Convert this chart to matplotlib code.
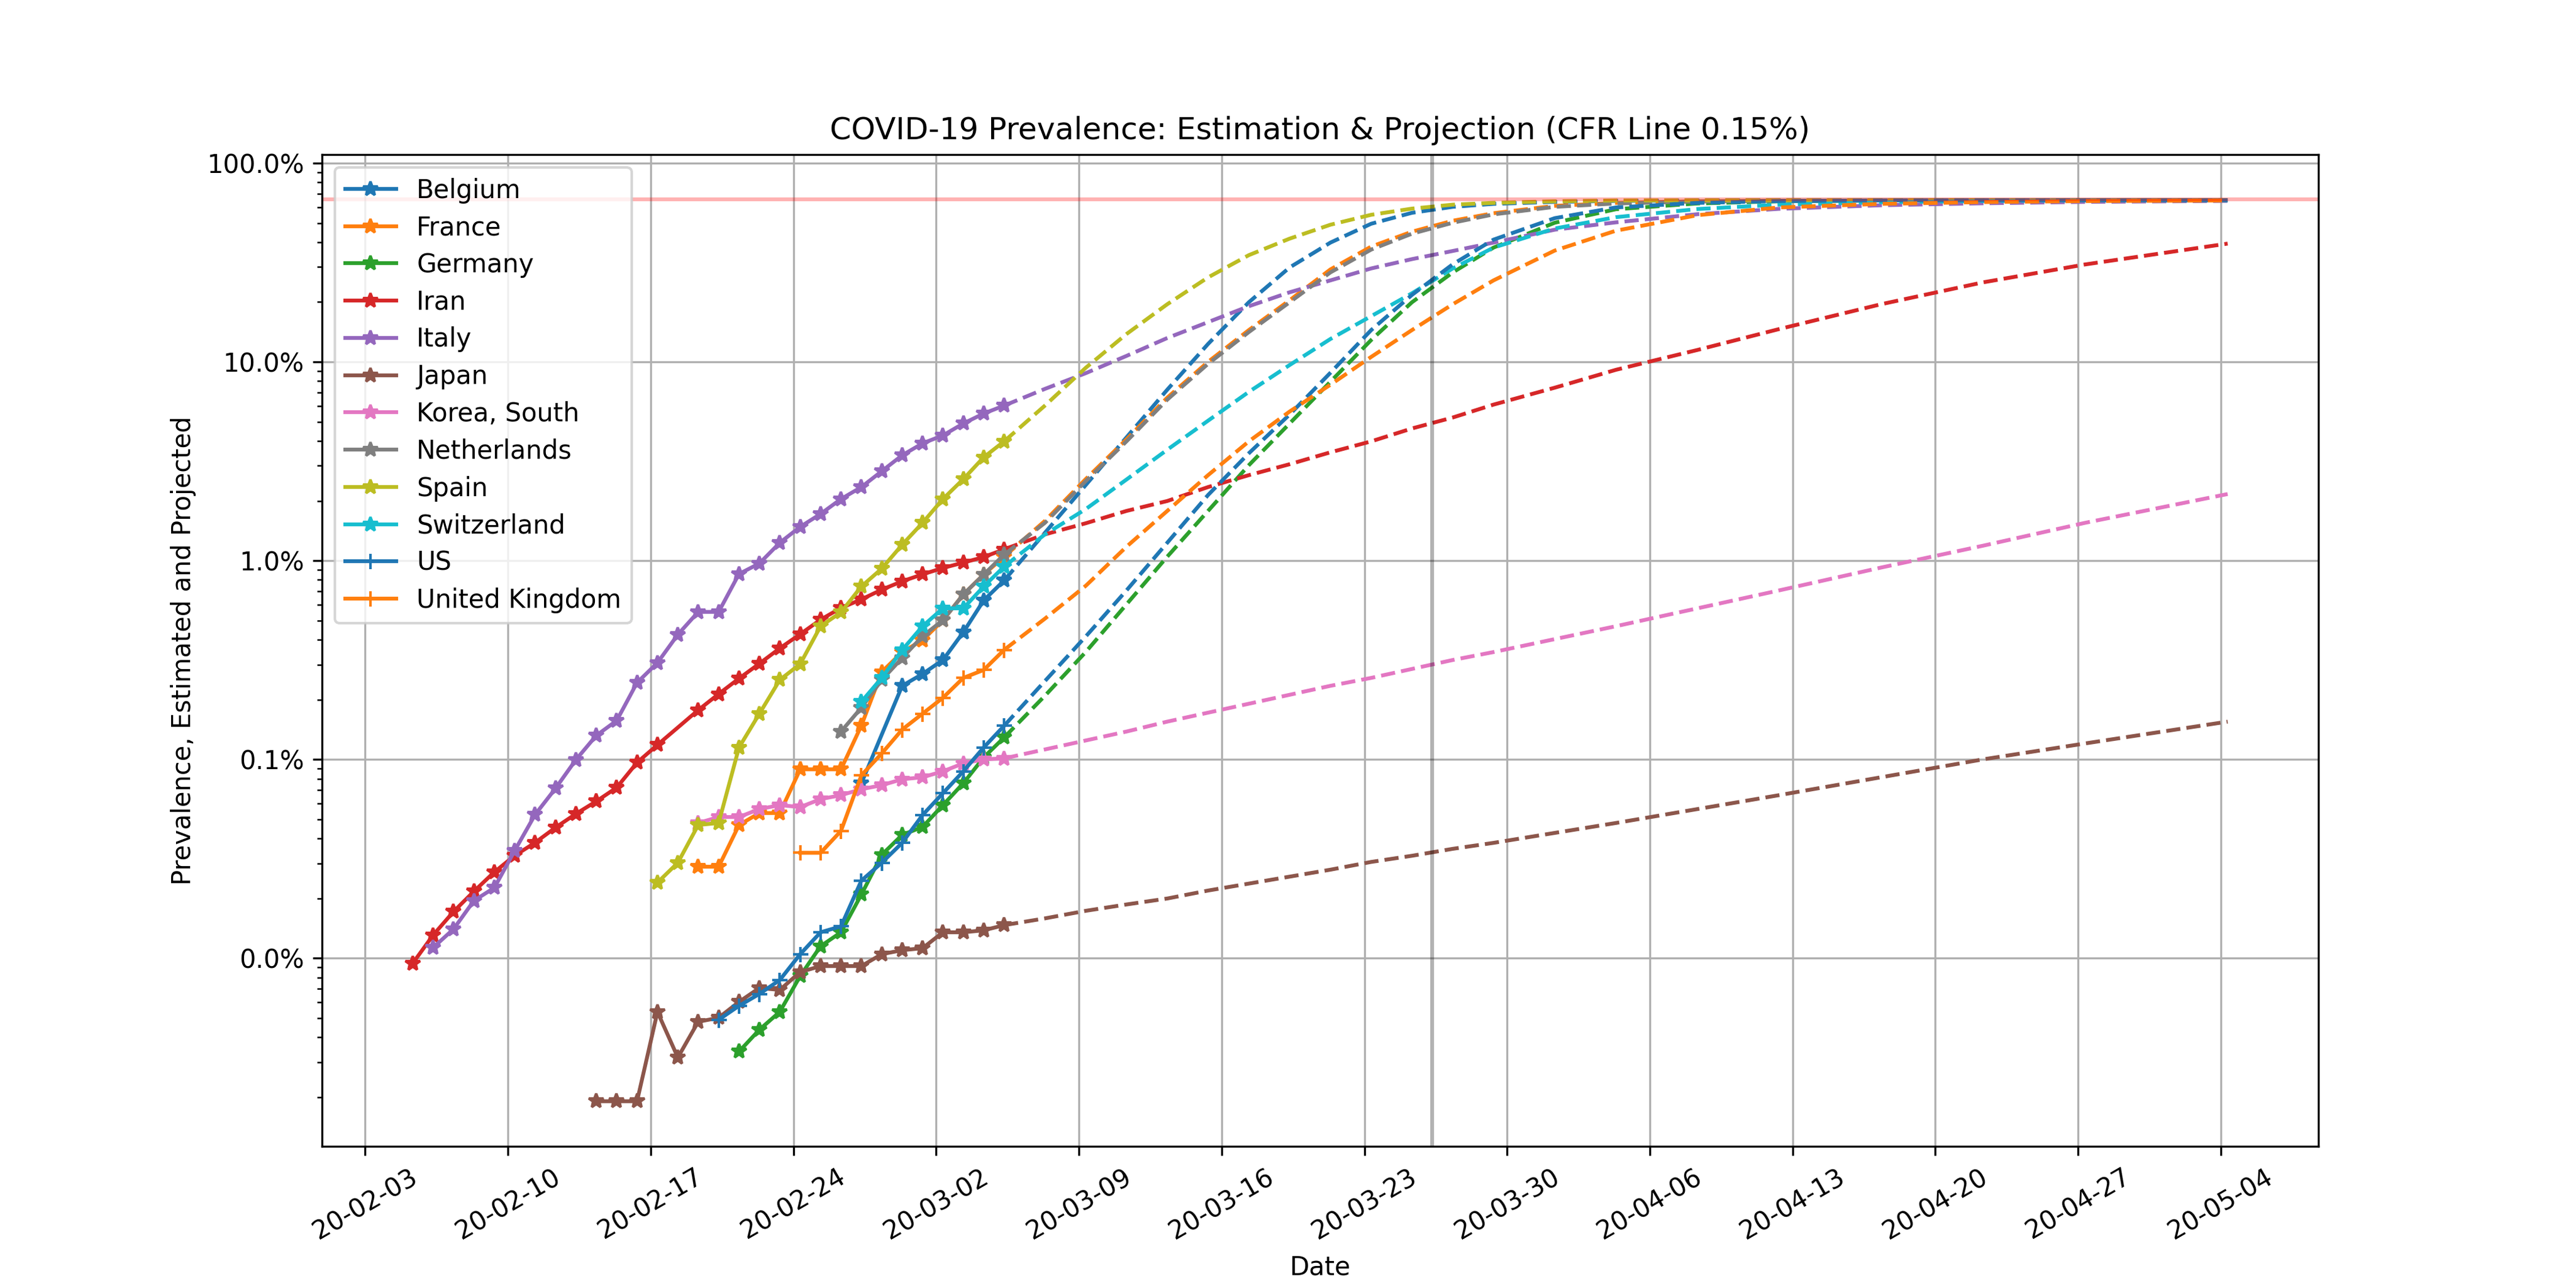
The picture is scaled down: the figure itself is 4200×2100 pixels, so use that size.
import numpy as np
import pandas as pd
import matplotlib
matplotlib.use("Agg")
import matplotlib.pyplot as plt
import matplotlib.dates as mdates
from matplotlib.ticker import PercentFormatter, NullFormatter

# All values are log10 of prevalence (fraction of population).
# Observed series: one value per day from the start date (None = day missing).
obs_hour = "08:00"

belgium_start = "2020-02-27"
belgium_obs = [-3.12, None, -2.63, -2.57, -2.50, -2.36, -2.20, -2.10]
france_start = "2020-02-19"
france_obs = [-3.54, -3.54, -3.33, -3.27, -3.27, -3.05, -3.05, -3.05, -2.83, -2.56,
              -2.46, -2.40, -2.30, -2.17, -2.07, -1.98]
germany_start = "2020-02-21"
germany_obs = [-4.47, -4.36, -4.27, -4.09, -3.94, -3.87, -3.68, -3.48, -3.38, -3.34,
               -3.23, -3.12, -2.99, -2.89]
iran_start = "2020-02-05"
iran_obs = [-4.026, -3.884, -3.766, -3.664, -3.567, -3.484, -3.419, -3.343, -3.274, -3.211,
            -3.142, -3.016, -2.927, None, -2.752, -2.671, -2.593, -2.518, -2.441, -2.370,
            -2.297, -2.238, -2.195, -2.146, -2.104, -2.069, -2.037, -2.010, -1.982, -1.943]
italy_start = "2020-02-06"
italy_obs = [-3.947, -3.854, -3.711, -3.646, -3.459, -3.278, -3.146, -3.002, -2.880, -2.805,
             -2.614, -2.514, -2.372, -2.258, -2.258, -2.067, -2.014, -1.91, -1.83, -1.765,
             -1.69, -1.63, -1.55, -1.47, -1.41, -1.37, -1.31, -1.26, -1.22]
japan_start = "2020-02-14"
japan_obs = [-4.72, -4.72, -4.72, -4.27, -4.50, -4.32, -4.30, -4.22, -4.15, -4.16,
             -4.07, -4.04, -4.04, -4.04, -3.98, -3.96, -3.95, -3.87, -3.87, -3.86, -3.834]
korea_start = "2020-02-19"
korea_obs = [-3.32, -3.29, -3.29, -3.25, -3.23, -3.24, -3.20, -3.18, -3.15, -3.13,
             -3.10, -3.09, -3.06, -3.02, -3.00, -2.995]
netherlands_start = "2020-02-26"
netherlands_obs = [-2.86, -2.74, -2.60, -2.49, -2.38, -2.30, -2.17, -2.07, -1.97]
spain_start = "2020-02-17"
spain_obs = [-3.62, -3.52, -3.33, -3.32, -2.94, -2.77, -2.60, -2.52, -2.33, -2.26,
             -2.13, -2.04, -1.92, -1.81, -1.69, -1.59, -1.48, -1.40]
switzerland_start = "2020-02-27"
switzerland_obs = [-2.71, -2.59, -2.45, -2.33, -2.24, -2.24, -2.13, -2.03]
us_start = "2020-02-20"
us_obs = [-4.31, -4.24, -4.18, -4.11, -3.98, -3.87, -3.84, -3.61, -3.52, -3.42,
          -3.28, -3.17, -3.06, -2.94, -2.831]
uk_start = "2020-02-24"
uk_obs = [-3.47, -3.47, -3.36, -3.08, -2.97, -2.85, -2.77, -2.69, -2.59, -2.55, -2.449]

# Projection (dashed) values at these dates
proj_dates = ["2020-03-05", "2020-03-07", "2020-03-09", "2020-03-11", "2020-03-13",
              "2020-03-15", "2020-03-17", "2020-03-19", "2020-03-21", "2020-03-23",
              "2020-03-25", "2020-03-27", "2020-03-29", "2020-04-01", "2020-04-04",
              "2020-04-08", "2020-04-12", "2020-04-17", "2020-04-22", "2020-04-27",
              "2020-05-04"]
belgium_proj = [-2.10, -1.86, -1.62, -1.38, -1.14, -0.91, -0.70, -0.525, -0.40, -0.305, -0.25,
                -0.22, -0.205, -0.195, -0.19, -0.188, -0.187, -0.187, -0.187, -0.187, -0.187]
france_proj = [-1.98, -1.80, -1.59, -1.39, -1.18, -1.00, -0.84, -0.69, -0.535, -0.42, -0.345,
               -0.29, -0.252, -0.215, -0.200, -0.192, -0.189, -0.188, -0.187, -0.187, -0.187]
germany_proj = [-2.89, -2.68, -2.46, -2.22, -1.98, -1.75, -1.52, -1.31, -1.10, -0.89, -0.70,
                -0.55, -0.425, -0.30, -0.232, -0.203, -0.192, -0.188, -0.187, -0.187, -0.187]
iran_proj = [-1.943, -1.868, -1.812, -1.75, -1.70, -1.63, -1.57, -1.515, -1.455, -1.40, -1.335,
             -1.28, -1.215, -1.13, -1.04, -0.94, -0.835, -0.71, -0.60, -0.51, -0.405]
italy_proj = [-1.22, -1.136, -1.057, -0.97, -0.88, -0.80, -0.72, -0.65, -0.59, -0.53, -0.483,
              -0.442, -0.40, -0.335, -0.298, -0.257, -0.23, -0.212, -0.202, -0.195, -0.19]
japan_proj = [-3.834, -3.80, -3.762, -3.73, -3.70, -3.66, -3.625, -3.59, -3.555, -3.516, -3.485,
              -3.45, -3.42, -3.37, -3.32, -3.25, -3.18, -3.09, -3.00, -2.92, -2.81]
korea_proj = [-2.995, -2.95, -2.905, -2.86, -2.81, -2.765, -2.72, -2.675, -2.63, -2.59, -2.545,
              -2.50, -2.46, -2.395, -2.33, -2.24, -2.15, -2.035, -1.925, -1.81, -1.665]
netherlands_proj = [-1.97, -1.81, -1.60, -1.40, -1.19, -1.01, -0.85, -0.70, -0.55, -0.435, -0.355,
                    -0.30, -0.258, -0.22, -0.203, -0.193, -0.19, -0.188, -0.187, -0.187, -0.187]
spain_proj = [-1.40, -1.22, -1.03, -0.86, -0.71, -0.575, -0.463, -0.38, -0.31, -0.26, -0.229,
              -0.209, -0.20, -0.192, -0.188, -0.187, -0.187, -0.187, -0.187, -0.187, -0.187]
switzerland_proj = [-2.03, -1.868, -1.741, -1.592, -1.442, -1.296, -1.151, -1.016, -0.885, -0.77,
                     -0.655, -0.53, -0.425, -0.329, -0.272, -0.231, -0.209, -0.197, -0.191,
                     -0.188, -0.187]
us_proj = [-2.831, -2.606, -2.382, -2.15, -1.91, -1.67, -1.46, -1.265, -1.055, -0.84, -0.663,
           -0.509, -0.385, -0.277, -0.223, -0.200, -0.191, -0.188, -0.187, -0.187, -0.187]
uk_proj = [-2.449, -2.292, -2.127, -1.93, -1.75, -1.57, -1.40, -1.25, -1.115, -0.975, -0.84,
           -0.71, -0.59, -0.44, -0.34, -0.262, -0.223, -0.205, -0.196, -0.191, -0.188]

countries = ["Belgium", "France", "Germany", "Iran", "Italy", "Japan", "Korea, South",
             "Netherlands", "Spain", "Switzerland", "US", "United Kingdom"]
markers = ["*", "*", "*", "*", "*", "*", "*", "*", "*", "*", "+", "+"]
colors = ["tab:blue", "tab:orange", "tab:green", "tab:red", "tab:purple", "tab:brown",
          "tab:pink", "tab:gray", "tab:olive", "tab:cyan", "tab:blue", "tab:orange"]

cfr_line = 0.655
today = "2020-03-26"

starts = [belgium_start, france_start, germany_start, iran_start, italy_start, japan_start,
          korea_start, netherlands_start, spain_start, switzerland_start, us_start, uk_start]
obs = [belgium_obs, france_obs, germany_obs, iran_obs, italy_obs, japan_obs, korea_obs,
       netherlands_obs, spain_obs, switzerland_obs, us_obs, uk_obs]
projs = [belgium_proj, france_proj, germany_proj, iran_proj, italy_proj, japan_proj, korea_proj,
         netherlands_proj, spain_proj, switzerland_proj, us_proj, uk_proj]

fig, ax = plt.subplots(figsize=(14, 7), dpi=300)

pdates = pd.to_datetime([d + " " + obs_hour for d in proj_dates])
for name, mk, col, st, ob, pr in zip(countries, markers, colors, starts, obs, projs):
    dates = pd.date_range(st + " " + obs_hour, periods=len(ob), freq="D")
    keep = [i for i, v in enumerate(ob) if v is not None]
    x = dates[keep]
    y = np.power(10.0, np.array([ob[i] for i in keep]))
    ax.plot(x, y, marker=mk, color=col, label=name, linewidth=1.5, markersize=6)
    ax.plot(pdates, np.power(10.0, np.array(pr)), "--", color=col, linewidth=1.5)

ax.axhline(cfr_line, color="r", alpha=0.3, linewidth=1.5)
ax.axvline(pd.Timestamp(today + " " + obs_hour), color="k", alpha=0.3, linewidth=1.5)

ax.set_yscale("log")
ax.yaxis.set_major_formatter(PercentFormatter(xmax=1.0, decimals=1))
ax.yaxis.set_minor_formatter(NullFormatter())
ax.xaxis.set_major_locator(mdates.WeekdayLocator(byweekday=mdates.MO))
ax.xaxis.set_major_formatter(mdates.DateFormatter("%y-%m-%d"))
plt.setp(ax.get_xticklabels(), rotation=30, ha="center")
ax.grid(True)

ax.set_title("COVID-19 Prevalence: Estimation & Projection (CFR Line 0.15%)")
ax.set_xlabel("Date")
ax.set_ylabel("Prevalence, Estimated and Projected")
ax.legend(loc="upper left", labelspacing=0.45)

fig.savefig("out.png", dpi=300)
